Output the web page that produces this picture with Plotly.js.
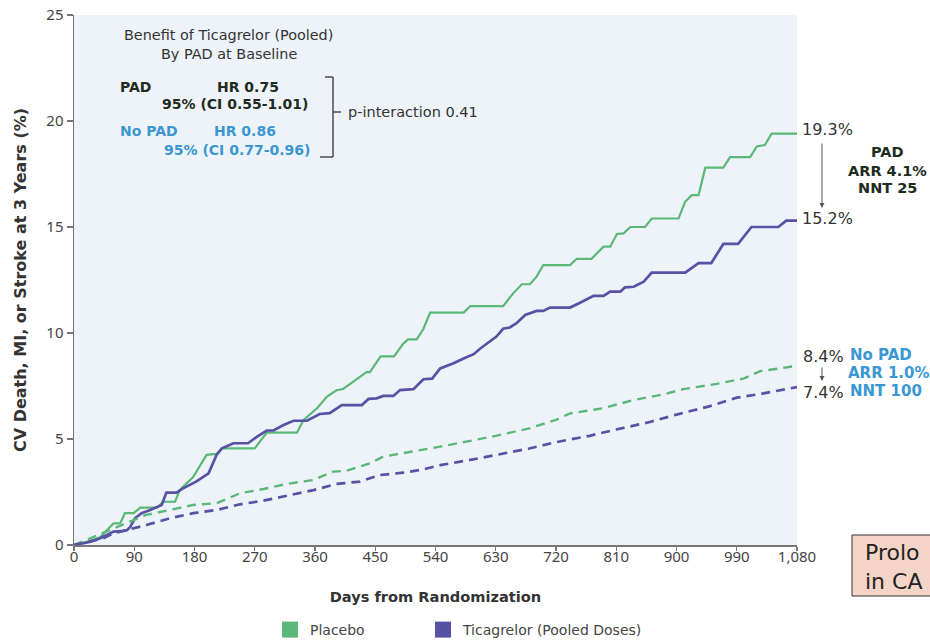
<!DOCTYPE html>
<html>
<head>
<meta charset="utf-8">
<script src="https://cdn.plot.ly/plotly-3.0.1.min.js"></script>
<style>html,body{margin:0;padding:0;background:#fff;}#chart{width:930px;height:642px;}</style>
</head>
<body>
<div id="chart"></div>
<script>
// ---- Data ----
const padPlaceboDays = [0,25,39,49,59,69,76,89,99,124,133,151,158,178,188,198,213,221,270,288,333,343,363,378,392,402,437,442,458,478,492,499,512,522,532,582,592,641,656,669,681,691,701,741,751,773,791,801,811,821,831,853,863,903,913,923,933,943,970,980,1010,1020,1032,1042,1080];
const padPlaceboPct  = [0,0.2,0.37,0.71,1.02,1.02,1.5,1.5,1.76,1.76,2.04,2.04,2.6,3.2,3.7,4.25,4.3,4.56,4.56,5.3,5.3,5.9,6.45,7.0,7.3,7.36,8.15,8.15,8.9,8.9,9.5,9.7,9.7,10.2,10.96,10.96,11.27,11.27,11.87,12.3,12.3,12.66,13.2,13.2,13.5,13.5,14.07,14.07,14.67,14.7,15.0,15.0,15.4,15.4,16.2,16.5,16.5,17.8,17.8,18.3,18.3,18.8,18.87,19.4,19.4];

const padTicaDays = [0,25,39,49,59,72,79,84,91,101,114,131,138,153,163,183,201,213,221,238,260,273,288,298,313,328,348,367,382,400,430,440,452,462,477,487,507,522,535,547,567,582,597,607,617,631,641,651,661,674,691,701,711,741,756,776,791,801,816,823,836,851,863,913,933,952,970,992,1012,1052,1064,1080];
const padTicaPct  = [0,0.15,0.32,0.47,0.63,0.65,0.7,0.85,1.26,1.5,1.65,1.89,2.47,2.47,2.67,3.0,3.38,4.25,4.56,4.8,4.8,5.1,5.4,5.4,5.66,5.86,5.86,6.18,6.22,6.6,6.6,6.89,6.92,7.03,7.03,7.31,7.35,7.82,7.85,8.33,8.57,8.8,9.0,9.27,9.5,9.83,10.2,10.26,10.46,10.85,11.04,11.04,11.2,11.2,11.43,11.75,11.75,11.95,11.95,12.15,12.18,12.42,12.85,12.85,13.3,13.3,14.2,14.2,15.0,15.0,15.3,15.3];

const noPadPlaceboDays = [0,54,79,108,143,178,213,248,283,318,358,387,407,442,462,507,547,590,630,680,720,740,790,836,880,910,960,1000,1025,1080];
const noPadPlaceboPct  = [0,0.7,1.05,1.42,1.65,1.89,1.97,2.44,2.64,2.88,3.07,3.46,3.5,3.85,4.17,4.4,4.64,4.9,5.15,5.5,5.9,6.2,6.45,6.84,7.1,7.35,7.6,7.85,8.2,8.45];

const noPadTicaDays = [0,44,59,79,108,143,178,213,248,283,318,358,392,427,457,492,522,547,590,630,680,720,770,810,860,900,950,990,1030,1080];
const noPadTicaPct  = [0,0.32,0.55,0.7,0.94,1.26,1.5,1.65,1.92,2.09,2.31,2.59,2.88,2.99,3.3,3.41,3.57,3.77,4.0,4.25,4.55,4.85,5.15,5.45,5.8,6.15,6.55,6.95,7.15,7.45];

const xTickVals = [0,90,180,270,360,450,540,630,720,810,900,990,1080];
const xTickText = ["0","90","180","270","360","450","540","630","720","810","900","990","1,080"];
const yTickVals = [0,5,10,15,20,25];
const legendNames = ["Placebo","Ticagrelor (Pooled Doses)"];

// ---- Styling ----
const GREEN = "#5bb878";
const PURPLE = "#5653a5";
const FONT = "DejaVu Sans, sans-serif";
const TICKFONT = "Noto Sans, sans-serif";
const DARK = "#1e2b20";
const BLUE = "#3a97d2";
const TXT = "#333";

// plot area in pixels
const L = 74, R = 797, T = 15, B = 545, W = 930, H = 642;
const px = v => (v - L) / (R - L);
const py = v => (B - v) / (B - T);

const traces = [
  {x: padPlaceboDays, y: padPlaceboPct, mode: "lines", line: {color: GREEN, width: 2.2}, showlegend: false, hoverinfo: "skip"},
  {x: padTicaDays, y: padTicaPct, mode: "lines", line: {color: PURPLE, width: 2.7}, showlegend: false, hoverinfo: "skip"},
  {x: noPadPlaceboDays, y: noPadPlaceboPct, mode: "lines", line: {color: GREEN, width: 2.4, dash: "9px,6px"}, showlegend: false, hoverinfo: "skip"},
  {x: noPadTicaDays, y: noPadTicaPct, mode: "lines", line: {color: PURPLE, width: 2.7, dash: "9px,6px"}, showlegend: false, hoverinfo: "skip"},
  {x: [null], y: [null], mode: "markers", name: legendNames[0], legend: "legend", marker: {symbol: "square", size: 16, color: GREEN}},
  {x: [null], y: [null], mode: "markers", name: legendNames[1], legend: "legend2", marker: {symbol: "square", size: 16, color: PURPLE}}
];

function T_(text, xp, yp, o) {
  o = o || {};
  return {
    xref: "paper", yref: "paper", x: px(xp), y: py(yp), text: text, showarrow: false,
    xanchor: o.xa || "left", yanchor: "middle", align: o.align || "left",
    font: {family: o.family || FONT, size: o.size || 14, color: o.color || TXT, weight: o.weight || "normal"}
  };
}
function arrow(xp, y0, y1) {
  return {xref: "paper", yref: "paper", x: px(xp), y: py(y1), axref: "paper", ayref: "paper", ax: px(xp), ay: py(y0),
          text: "", showarrow: true, arrowhead: 2, arrowsize: 1, arrowwidth: 1, arrowcolor: "#555"};
}

const annotations = [
  T_("Benefit of Ticagrelor (Pooled)", 228, 35, {xa: "center", size: 14.4}),
  T_("By PAD at Baseline", 229, 54, {xa: "center", size: 14.4}),
  T_("PAD", 118, 87, {color: DARK, weight: "bold", size: 14}),
  T_("HR 0.75", 215, 87, {color: DARK, weight: "bold", size: 14}),
  T_("95% (CI 0.55-1.01)", 160, 104, {color: DARK, weight: "bold", size: 14}),
  T_("No PAD", 118, 131, {color: BLUE, weight: "bold", size: 14}),
  T_("HR 0.86", 212, 131, {color: BLUE, weight: "bold", size: 14}),
  T_("95% (CI 0.77-0.96)", 162, 150, {color: BLUE, weight: "bold", size: 14}),
  T_("p-interaction 0.41", 346, 112, {size: 14.5}),
  T_("19.3%", 800, 130, {size: 16}),
  T_("15.2%", 800, 218, {size: 16}),
  T_("PAD", 887, 152, {xa: "center", color: DARK, weight: "bold", size: 14.5}),
  T_("ARR 4.1%", 887, 171, {xa: "center", color: DARK, weight: "bold", size: 14.5}),
  T_("NNT 25", 887, 188, {xa: "center", color: DARK, weight: "bold", size: 14.5}),
  T_("8.4%", 801, 356, {size: 16}),
  T_("7.4%", 801, 392, {size: 16}),
  T_("No PAD", 848, 355, {color: BLUE, weight: "bold", size: 15}),
  T_("ARR 1.0%", 846, 373, {color: BLUE, weight: "bold", size: 15}),
  T_("NNT 100", 848, 391, {color: BLUE, weight: "bold", size: 15}),
  T_("Prolo<br>in CA", 863, 567, {size: 22, color: "#222"}),
  arrow(822, 142, 208),
  arrow(822, 366, 381)
];

function line(x0, y0, x1, y1, c, w) {
  return {type: "line", xref: "paper", yref: "paper", x0: px(x0), y0: py(y0), x1: px(x1), y1: py(y1), line: {color: c || "#333", width: w || 1.3}};
}
const shapes = [
  line(333, 77, 333, 157),
  line(325, 77, 333, 77),
  line(320, 157, 333, 157),
  line(333, 112, 341, 112),
  {type: "rect", xref: "paper", yref: "paper", x0: px(852), x1: px(960), y0: py(535), y1: py(596),
   fillcolor: "#f4d4c7", line: {color: "#333", width: 1}, layer: "below"}
];

const legendBase = {orientation: "h", xanchor: "left", yanchor: "middle", xref: "container", yref: "container",
                    y: 1 - 630 / H, font: {family: FONT, size: 14, color: "#444"}, bgcolor: "rgba(0,0,0,0)"};

const layout = {
  width: W, height: H,
  margin: {l: L, r: W - R, t: T, b: H - B, pad: 0, autoexpand: false},
  paper_bgcolor: "#ffffff",
  plot_bgcolor: "#eef3f9",
  font: {family: FONT, color: "#444"},
  xaxis: {
    range: [0, 1080], tickvals: xTickVals, ticktext: xTickText, automargin: false,
    showgrid: false, zeroline: false, showline: true, linecolor: "#777", linewidth: 1.5,
    ticks: "outside", ticklen: 4, tickcolor: "#777", tickwidth: 1.3, ticklabelstandoff: -7,
    tickfont: {family: TICKFONT, size: 15, color: "#444"},
    title: {text: "Days from Randomization", standoff: 27, font: {family: FONT, size: 14.6, color: "#333", weight: "bold"}}
  },
  yaxis: {
    range: [0, 25], tickvals: yTickVals, automargin: false,
    showgrid: false, zeroline: false, showline: true, linecolor: "#777", linewidth: 1.5,
    ticks: "outside", ticklen: 6, tickcolor: "#777", tickwidth: 1.3,
    tickfont: {family: TICKFONT, size: 15, color: "#444"},
    title: {text: "CV Death, MI, or Stroke at 3 Years (%)", standoff: 15, font: {family: FONT, size: 16, color: "#333", weight: "bold"}}
  },
  showlegend: true,
  legend: Object.assign({}, legendBase, {x: 270 / W}),
  legend2: Object.assign({}, legendBase, {x: 423 / W}),
  annotations: annotations,
  shapes: shapes
};

Plotly.newPlot("chart", traces, layout, {displayModeBar: false, staticPlot: true});
</script>
</body>
</html>
